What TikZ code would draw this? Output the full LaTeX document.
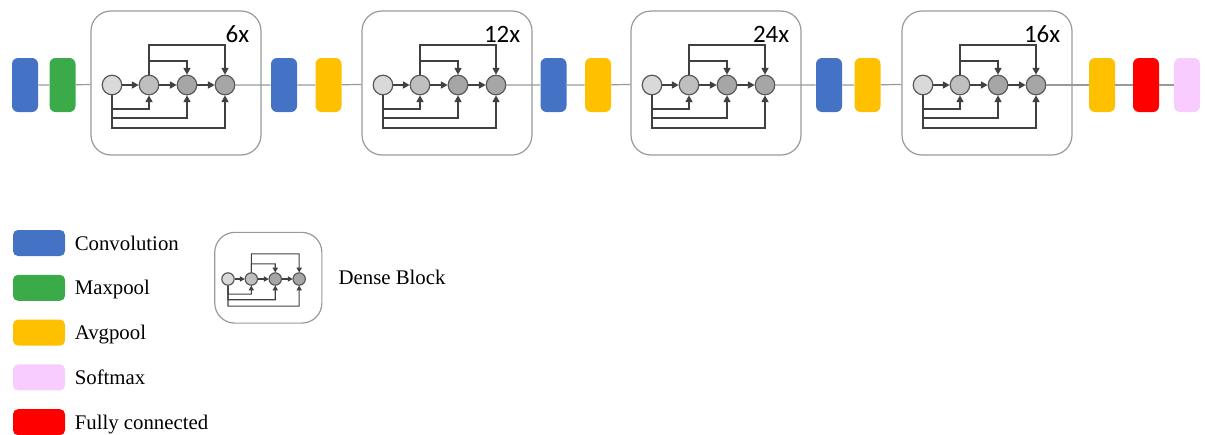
\documentclass[tikz,border=0pt]{standalone}
\usepackage{fontspec}
\setmainfont{Liberation Serif}
\newfontfamily\calibfont{Carlito}
\usepackage{tikz}
\usetikzlibrary{arrows.meta,calc,positioning}
\definecolor{convblue}{HTML}{4472C4}
\definecolor{poolgreen}{HTML}{3BAA48}
\definecolor{avgyellow}{HTML}{FFC000}
\definecolor{fcred}{HTML}{FF0000}
\definecolor{softpink}{HTML}{F9CCFF}
\definecolor{unitA}{HTML}{D9D9D9}
\definecolor{unitB}{HTML}{BFBFBF}
\definecolor{unitC}{HTML}{A6A6A6}

\tikzset{
  unit/.style={circle,draw=black!65,line width=.6pt,minimum size=9.8pt,inner sep=0pt},
  lk/.style={draw=black!75,line width=.55pt,-{Triangle[length=3.4pt,width=3.6pt]}},
  dense/.pic={
    \node[draw=black!40,line width=.6pt,rounded corners=10pt,
          minimum width=85pt,minimum height=72pt] (-box) at (64,-2) {};
    \node[unit,fill=unitA] (-c0) at (0,0) {};
    \node[unit,fill=unitB] (-c1) at (37,0) {};
    \node[unit,fill=unitC] (-c2) at (75,0) {};
    \node[unit,fill=unitC] (-c3) at (113,0) {};
    \draw[lk] (-c0) -- (-c1);
    \draw[lk] (-c1) -- (-c2);
    \draw[lk] (-c2) -- (-c3);
    \draw[lk] (-c1.north) |- (113,-40) -- (-c3.north);
    \draw[lk] (-c1.north) |- (75,-24) -- (-c2.north);
    \draw[lk] (-c0.south) |- (37,24) -- (-c1.south);
    \draw[lk] (-c0.south) |- (75,33) -- (-c2.south);
    \draw[lk] (-c0.south) |- (113,43) -- (-c3.south);
  }
}

\begin{document}
\begin{tikzpicture}[x=.5pt,y=-.5pt,
  lay/.style={minimum width=13pt,minimum height=27pt,rounded corners=3pt,inner sep=0pt},
  sw/.style={minimum width=26pt,minimum height=13pt,rounded corners=2.5pt,inner sep=0pt},
  trunk/.style={draw=black!40,line width=.6pt},
  cnt/.style={font=\calibfont\fontsize{12.5}{14}\selectfont,inner sep=0pt},
  leglab/.style={font=\fontsize{10.4}{12}\selectfont,inner sep=0pt,text height=7pt,text depth=0pt}]
  \useasboundingbox (0,0) rectangle (1205,434);

  % dense blocks
  \pic (b1) at (112,85) {dense};
  \pic (b2) at (383,85) {dense};
  \pic (b3) at (652,85) {dense};
  \pic (b4) at (923,85) {dense};
  \node[cnt,anchor=north east] (n1) at ([shift={(-12,15)}]b1-box.north east) {6x};
  \node[cnt,anchor=north east] (n2) at ([shift={(-12,15)}]b2-box.north east) {12x};
  \node[cnt,anchor=north east] (n3) at ([shift={(-12,15)}]b3-box.north east) {24x};
  \node[cnt,anchor=north east] (n4) at ([shift={(-12,15)}]b4-box.north east) {16x};

  % layers
  \node[lay,fill=convblue] (conv1) at (25,85) {};
  \node[lay,fill=poolgreen] (max1) at (62.5,85) {};
  \node[lay,fill=convblue] (conv2) at (284,85) {};
  \node[lay,fill=avgyellow] (avg2) at (328.5,85) {};
  \node[lay,fill=convblue] (conv3) at (553.5,85) {};
  \node[lay,fill=avgyellow] (avg3) at (598,85) {};
  \node[lay,fill=convblue] (conv4) at (829,85) {};
  \node[lay,fill=avgyellow] (avg4) at (867.5,85) {};
  \node[lay,fill=avgyellow] (avg5) at (1102,85) {};
  \node[lay,fill=fcred] (fc) at (1146,85) {};
  \node[lay,fill=softpink] (soft) at (1187,85) {};

  \draw[trunk] (conv1) -- (max1) -- (b1-box);
  \draw[trunk] (b1-c3) -- (conv2) -- (avg2) -- (b2-box);
  \draw[trunk] (b2-c3) -- (conv3) -- (avg3) -- (b3-box);
  \draw[trunk] (b3-c3) -- (conv4) -- (avg4) -- (b4-box);
  \draw[trunk] (b4-c3) -- (avg5) -- (fc) -- (soft);

  % legend
  \node[sw,fill=convblue] (lg1) at (39,243) {};
  \node[sw,fill=poolgreen,below=9pt of lg1] (lg2) {};
  \node[sw,fill=avgyellow,below=9pt of lg2] (lg3) {};
  \node[sw,fill=softpink,below=9pt of lg3] (lg4) {};
  \node[sw,fill=fcred,below=9pt of lg4] (lg5) {};
  \node[leglab,right=4.5pt of lg1] (t1) {Convolution};
  \node[leglab,right=4.5pt of lg2] (t2) {Maxpool};
  \node[leglab,right=4.5pt of lg3] (t3) {Avgpool};
  \node[leglab,right=4.5pt of lg4] (t4) {Softmax};
  \node[leglab,right=4.5pt of lg5] (t5) {Fully connected};

  \pic[scale=.63,transform shape,
       lk/.append style={-{Triangle[length=2.4pt,width=2.6pt]}}] (mini) at (228,279) {dense};
  \node[leglab,right=8pt of mini-box] (t6) {Dense Block};
\end{tikzpicture}
\end{document}
